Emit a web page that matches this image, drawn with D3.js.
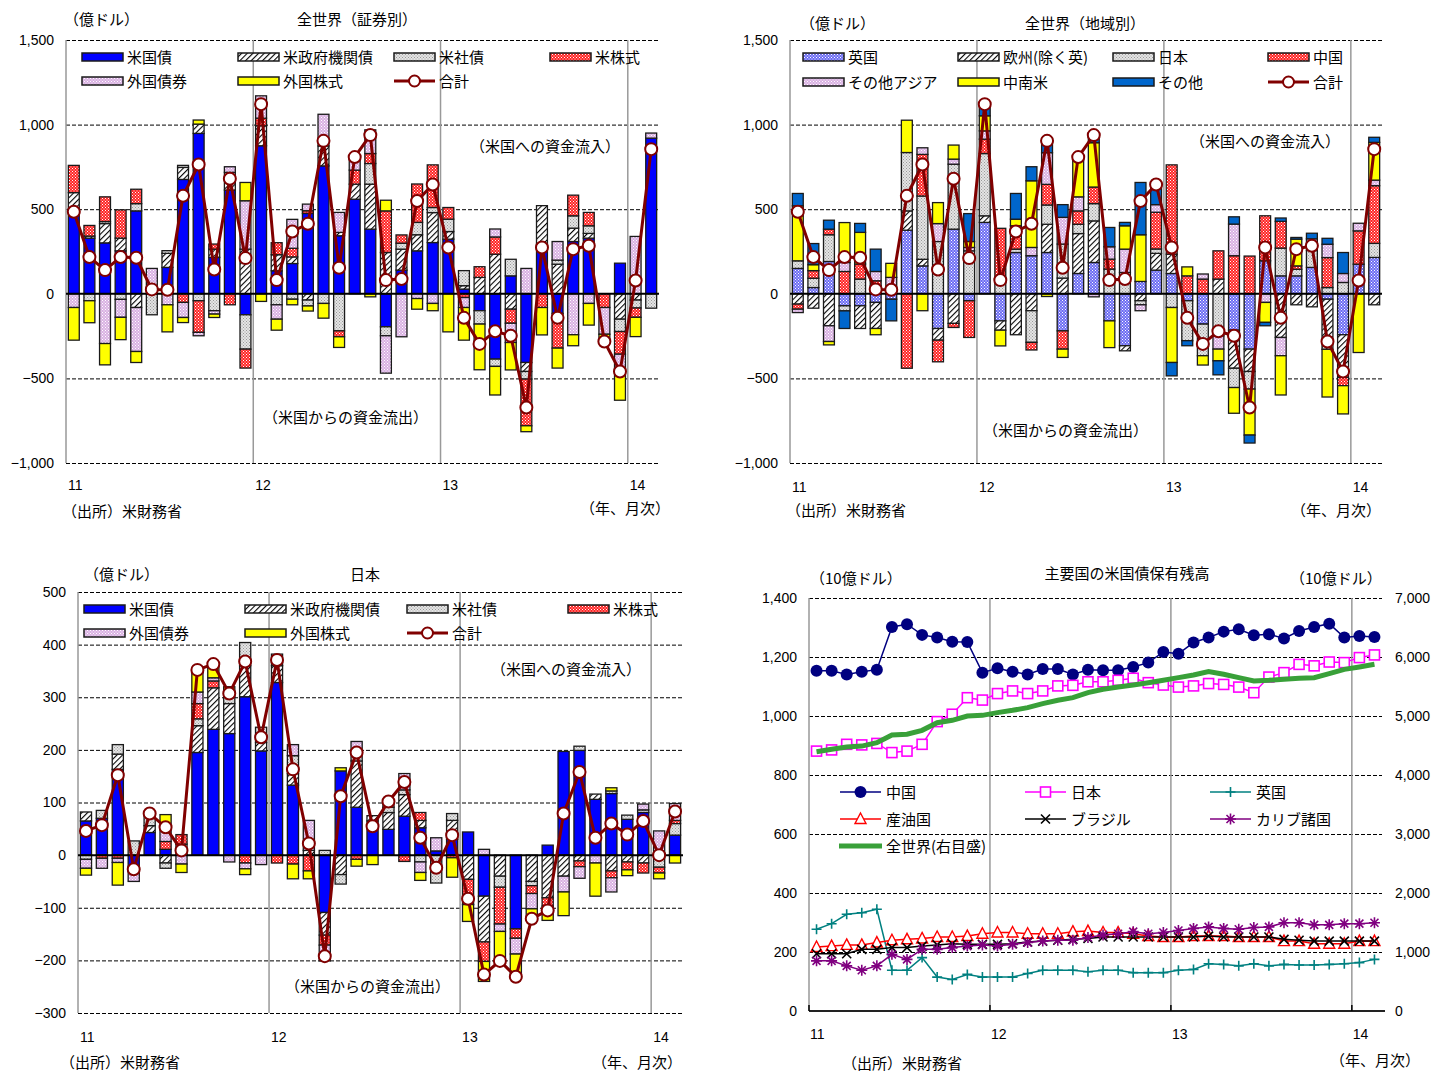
<!DOCTYPE html>
<html lang="ja">
<head>
<meta charset="UTF-8">
<title>対米証券投資と米国債保有残高</title>
<script src="https://d3js.org/d3.v7.min.js"></script>
<style>
  body { margin: 0; background: #fff; }
  svg text { font-family: "Noto Sans CJK JP", "Noto Sans", sans-serif; font-size: 15px; fill: #000; }
  .num text, text.num { font-family: "Liberation Sans", Arial, sans-serif; font-size: 14px; }
</style>
</head>
<body>
<svg id="chart" width="1447" height="1072"></svg>
<script>
// ---- categories ----
const months = [
  '2011-01','2011-02','2011-03','2011-04','2011-05','2011-06','2011-07','2011-08','2011-09','2011-10','2011-11','2011-12',
  '2012-01','2012-02','2012-03','2012-04','2012-05','2012-06','2012-07','2012-08','2012-09','2012-10','2012-11','2012-12',
  '2013-01','2013-02','2013-03','2013-04','2013-05','2013-06','2013-07','2013-08','2013-09','2013-10','2013-11','2013-12',
  '2014-01','2014-02'];
const yearStarts = ['2011-01','2012-01','2013-01','2014-01'];
const yearLabels = ['11','12','13','14'];

// ---- 全世界（証券別）, 億ドル ----
const worldUst     = [500,329,301,254,490,0,156,676,948,215,613,-124,875,136,179,475,756,343,559,382,-195,140,254,303,323,28,-100,-386,106,-406,294,-116,309,329,0,181,0,920];
const worldAgency  = [98,12,114,75,-81,0,83,71,55,49,75,264,118,95,39,-37,118,20,89,266,244,124,95,177,45,20,97,234,-91,-53,227,175,79,28,0,-150,-37,0];
const worldCorp    = [0,-41,12,-33,43,-124,16,12,-41,-100,30,-203,0,-65,-32,-35,-57,-219,0,122,-53,35,73,30,73,89,-79,-43,98,-45,0,24,73,45,0,-73,-47,-85];
const worldEquity  = [161,63,146,167,85,0,0,-51,-187,30,-65,-112,45,71,51,16,0,-35,83,59,246,49,227,252,69,-22,63,102,-83,-276,-81,-205,122,79,-81,-134,-55,0];
const worldFbond   = [-81,0,-294,-106,-260,150,-65,-89,-20,-20,33,286,132,-85,171,39,187,118,85,140,-221,-254,-28,-57,0,-59,0,47,-114,150,0,110,-242,-57,-158,-83,339,30];
const worldFequity = [-193,-130,-126,-132,-65,0,-160,-30,24,-20,0,108,-45,-65,-33,-30,-87,-63,0,-18,63,0,-63,-43,-225,-193,-270,-169,-162,-35,-162,-118,-65,-128,-43,-189,-114,0];
const worldTotal   = [485,217,140,217,213,26,24,579,764,144,680,211,1121,81,368,414,904,154,808,938,81,87,548,646,274,-142,-296,-221,-248,-672,274,-142,264,284,-282,-459,79,855];

// ---- 全世界（地域別）, 億ドル ----
const regUk     = [150,37,191,-71,-71,-51,-32,376,165,-205,382,-41,422,-160,244,225,244,-219,120,185,-160,-307,73,140,120,-41,-179,0,-215,-327,195,106,106,156,-32,-242,175,215];
const regEurope = [-61,-85,-189,0,-134,-154,0,114,39,-69,-175,0,39,-55,-242,-100,167,93,236,246,0,-30,-41,99,114,0,0,87,-225,-132,0,-258,-65,-77,-296,-252,0,-65];
const regJapan  = [45,55,158,-30,87,47,0,345,374,309,384,254,368,97,20,-187,114,201,55,102,146,126,-24,26,-81,-236,-187,-248,-114,-104,0,164,39,100,37,67,0,83];
const regChina  = [-30,45,33,132,89,30,0,-440,246,-128,-24,-217,85,290,138,-45,122,-108,79,98,59,0,0,217,528,106,87,167,225,223,266,158,20,0,177,-49,197,341];
const regAsia   = [-20,0,-93,53,0,55,97,0,39,106,30,20,49,0,0,49,187,158,83,-18,73,138,-35,45,0,0,30,-79,187,0,-51,-108,0,69,79,53,45,33];
const regLatam  = [325,35,-20,236,187,-37,83,191,-100,124,83,35,89,-93,39,394,-16,-49,232,262,-158,138,276,0,-325,53,-55,-69,-152,-272,-118,-232,158,0,-282,-167,-347,223];
const regOther  = [73,125,53,-104,53,132,-128,0,0,0,0,165,69,0,152,83,85,75,0,59,114,20,309,112,-79,-30,0,-83,43,-47,-20,20,10,33,35,124,0,30];

// ---- 日本（証券別）, 億ドル ----
const jpUst     = [65,70,163,-21,43,11,8,195,239,231,301,198,328,133,0,-109,160,91,65,49,74,52,8,30,44,-78,0,-140,0,19,197,199,106,117,68,81,0,38];
const jpAgency  = [17,0,29,0,13,-15,13,51,79,57,59,16,32,22,9,-43,-37,88,10,32,41,14,0,36,-46,-87,-40,0,-50,-81,-40,-11,10,-30,-13,-15,0,0];
const jpCorp    = [-8,15,18,27,22,-10,0,13,0,12,44,29,22,34,0,9,-18,15,0,10,9,-13,-53,13,0,0,-21,0,-8,0,0,8,0,5,8,5,-23,22];
const jpEquity  = [0,-6,-6,-10,0,15,18,29,13,0,-15,0,-15,-17,-30,-19,0,-8,0,0,-12,15,0,-5,-48,-37,-70,-18,-15,-16,0,-11,0,-13,-15,-19,-11,6];
const jpFbond   = [-17,-19,-8,-19,0,27,-17,22,6,-13,-11,-18,0,21,57,-30,0,22,0,12,31,-20,25,0,0,11,-14,-30,-29,0,-30,-22,-15,-27,0,11,46,32];
const jpFequity = [-13,0,-43,0,0,24,-16,43,25,20,-11,0,0,-28,-15,0,6,-13,-18,0,0,-15,0,-37,-32,-38,-56,-46,-22,-27,-45,0,-63,6,-11,0,-11,-15];
const jpTotal   = [46,57,152,-27,79,53,9,352,363,307,368,224,371,163,22,-192,112,195,55,102,139,33,-24,38,-83,-227,-201,-231,-121,-105,79,158,33,60,39,65,0,83];

// ---- 主要国の米国債保有残高, 10億ドル ----
const holdChina  = [1153,1153,1141,1150,1157,1302,1311,1275,1266,1252,1251,1147,1162,1150,1141,1159,1159,1141,1157,1155,1155,1166,1181,1217,1211,1249,1266,1286,1294,1274,1277,1263,1288,1302,1313,1266,1271,1268];
const holdJapan  = [881,885,904,902,907,876,881,904,981,1006,1062,1054,1076,1085,1076,1085,1102,1104,1116,1116,1121,1128,1113,1105,1098,1102,1110,1107,1098,1079,1132,1147,1175,1170,1183,1181,1198,1207];
const holdUk     = [277,296,328,333,345,138,138,181,115,107,124,115,115,115,127,138,138,138,133,138,138,130,130,130,138,141,160,158,153,160,153,158,156,156,158,160,164,175];
const holdOil    = [217,220,224,224,232,240,243,246,251,251,254,262,266,266,262,262,262,269,271,266,266,262,254,251,251,254,254,254,251,251,251,237,237,228,228,228,237,237];
const holdBrazil = [194,194,194,209,209,215,215,220,224,228,226,226,226,228,234,237,240,243,246,251,251,251,251,251,251,251,254,251,251,251,251,243,240,237,237,237,237,237];
const holdCarib  = [170,170,153,138,153,192,175,209,209,215,220,224,220,226,232,237,240,240,249,258,262,269,262,266,273,280,285,280,277,283,285,299,299,292,292,296,296,299];
const holdWorld  = [4395,4435,4475,4490,4548,4678,4690,4757,4887,4927,5000,5011,5057,5096,5141,5209,5266,5311,5396,5452,5492,5526,5565,5605,5650,5695,5752,5707,5650,5594,5605,5622,5639,5650,5718,5791,5831,5876];

// ---- setup ----
const svg = d3.select('#chart');
const defs = svg.append('defs');

function dotPattern(id, bg, dot) {
  const p = defs.append('pattern').attr('id', id)
    .attr('patternUnits', 'userSpaceOnUse').attr('width', 3).attr('height', 3);
  p.append('rect').attr('width', 3).attr('height', 3).attr('fill', bg);
  p.append('rect').attr('x', 0).attr('y', 0).attr('width', 1).attr('height', 1).attr('fill', dot);
  p.append('rect').attr('x', 1.5).attr('y', 1.5).attr('width', 1).attr('height', 1).attr('fill', dot);
}
dotPattern('grayDot', '#e4e4e4', '#9a9a9a');
dotPattern('redDot', '#ff2424', '#ffffff');
dotPattern('pinkDot', '#d9b0e2', '#ffffff');
dotPattern('ukDot', '#6c6cf4', '#ffffff');
const hatch = defs.append('pattern').attr('id', 'hatch')
  .attr('patternUnits', 'userSpaceOnUse').attr('width', 4).attr('height', 4)
  .attr('patternTransform', 'rotate(45)');
hatch.append('rect').attr('width', 4).attr('height', 4).attr('fill', '#fff');
hatch.append('line').attr('x1', 0).attr('y1', 0).attr('x2', 0).attr('y2', 4)
  .attr('stroke', '#000').attr('stroke-width', 2.2);

const secKeys = ['ust','agency','corp','equity','fbond','fequity'];
const secNames = ['米国債','米政府機関債','米社債','米株式','外国債券','外国株式'];
const secFills = ['#0000ff','url(#hatch)','url(#grayDot)','url(#redDot)','url(#pinkDot)','#ffff00'];
const regKeys = ['uk','europe','japan','china','asia','latam','other'];
const regNames = ['英国','欧州(除く英)','日本','中国','その他アジア','中南米','その他'];
const regFills = ['url(#ukDot)','url(#hatch)','url(#grayDot)','url(#redDot)','url(#pinkDot)','#ffff00','#0066cc'];

const TOTAL_COLOR = '#800000';
const WORLD_COLOR = '#39a039';

function txt(g, x, y, s, anchor) {
  return g.append('text').attr('x', x).attr('y', y).attr('text-anchor', anchor || 'start').text(s);
}

// stacked bar panel with total line
function drawBarPanel(c) {
  const g = svg.append('g');
  const x = d3.scaleBand().domain(months).range([c.x0, c.x1]).paddingInner(0.3).paddingOuter(0.15);
  const y = d3.scaleLinear().domain(c.yDomain).range([c.y1, c.y0]);
  const off = x.step() * x.paddingInner() / 2;
  const yearX = yearStarts.map(m => x(m) - off);

  const rows = months.map((m, i) => {
    const r = { month: m };
    c.keys.forEach((k, j) => r[k] = c.series[j][i]);
    return r;
  });
  const stacked = d3.stack().keys(c.keys).offset(d3.stackOffsetDiverging)(rows);

  // grid lines and y labels
  const yAx = g.append('g').attr('class', 'num').attr('transform', `translate(${c.x0},0)`)
    .call(d3.axisLeft(y).tickValues(c.yTicks).tickSize(-(c.x1 - c.x0)).tickPadding(12).tickFormat(d3.format(',')));
  yAx.select('.domain').remove();
  yAx.selectAll('.tick line').attr('stroke', '#000').attr('stroke-width', 1)
    .attr('stroke-dasharray', '4,2').attr('opacity', d => d === 0 ? 0 : 1);

  // year separators
  g.append('g').selectAll('line').data(yearX).join('line')
    .attr('x1', d => d).attr('x2', d => d).attr('y1', c.y0).attr('y2', c.y1)
    .attr('stroke', '#999').attr('stroke-width', 1.5);

  // bars
  g.append('g').selectAll('g').data(stacked).join('g')
    .attr('fill', (s, i) => c.fills[i])
    .selectAll('rect').data(s => s.filter(d => d[1] - d[0] !== 0)).join('rect')
    .attr('x', d => x(d.data.month)).attr('width', x.bandwidth())
    .attr('y', d => y(Math.max(d[0], d[1])))
    .attr('height', d => Math.abs(y(d[0]) - y(d[1])))
    .attr('stroke', '#1a1a1a').attr('stroke-width', 1.3);

  // zero line
  g.append('line').attr('x1', c.x0).attr('x2', c.x1).attr('y1', y(0)).attr('y2', y(0))
    .attr('stroke', '#000').attr('stroke-width', 2);

  // total line
  const cx = (d, i) => x(months[i]) + x.bandwidth() / 2;
  g.append('path').datum(c.total)
    .attr('d', d3.line().x(cx).y(d => y(d)))
    .attr('fill', 'none').attr('stroke', TOTAL_COLOR).attr('stroke-width', 3);
  g.append('g').selectAll('circle').data(c.total).join('circle')
    .attr('cx', cx).attr('cy', d => y(d)).attr('r', 6)
    .attr('fill', '#fff').attr('stroke', TOTAL_COLOR).attr('stroke-width', 2);

  // legend
  const lg = g.append('g');
  c.names.forEach((n, i) => {
    const col = i < 4 ? i : i - 4, row = i < 4 ? 0 : 1;
    const lx = c.legendX[col], ly = c.legendY[row];
    lg.append('rect').attr('x', lx).attr('y', ly - 4).attr('width', 41).attr('height', 8)
      .attr('fill', c.fills[i]).attr('stroke', '#1a1a1a').attr('stroke-width', 1.5);
    txt(lg, lx + 45, ly + 5.5, n);
  });
  {
    const col = c.names.length - 4, lx = c.legendX[col], ly = c.legendY[1];
    lg.append('line').attr('x1', lx).attr('x2', lx + 41).attr('y1', ly).attr('y2', ly)
      .attr('stroke', TOTAL_COLOR).attr('stroke-width', 3);
    lg.append('circle').attr('cx', lx + 20.5).attr('cy', ly).attr('r', 5.5)
      .attr('fill', '#fff').attr('stroke', TOTAL_COLOR).attr('stroke-width', 2);
    txt(lg, lx + 45, ly + 5.5, '合計');
  }

  // texts
  txt(g, c.unitX, c.titleY, '（億ドル）');
  txt(g, c.titleX, c.titleY, c.title, 'middle');
  txt(g, c.inflow[0], c.inflow[1], '（米国への資金流入）');
  txt(g, c.outflow[0], c.outflow[1], '（米国からの資金流出）');
  yearX.forEach((yx, i) => txt(g, yx + 2, c.yearY, yearLabels[i]).attr('class', 'num'));
  txt(g, c.src[0], c.src[1], '（出所）米財務省');
  txt(g, c.ym[0], c.ym[1], '（年、月次）', 'end');
}

drawBarPanel({
  x0: 66, x1: 659, y0: 40, y1: 463, yDomain: [-1000, 1500], yTicks: [-1000, -500, 0, 500, 1000, 1500],
  keys: secKeys, names: secNames, fills: secFills,
  series: [worldUst, worldAgency, worldCorp, worldEquity, worldFbond, worldFequity], total: worldTotal,
  title: '全世界（証券別）', titleX: 357, titleY: 25, unitX: 64,
  legendX: [82, 238, 394, 550], legendY: [57, 81],
  inflow: [470, 152], outflow: [263, 423], yearY: 490, src: [62, 517], ym: [670, 514]
});
drawBarPanel({
  x0: 790, x1: 1382, y0: 40, y1: 463, yDomain: [-1000, 1500], yTicks: [-1000, -500, 0, 500, 1000, 1500],
  keys: regKeys, names: regNames, fills: regFills,
  series: [regUk, regEurope, regJapan, regChina, regAsia, regLatam, regOther], total: worldTotal,
  title: '全世界（地域別）', titleX: 1085, titleY: 29, unitX: 800,
  legendX: [803, 958, 1113, 1268], legendY: [57, 82],
  inflow: [1190, 147], outflow: [983, 436], yearY: 492, src: [786, 516], ym: [1381, 516]
});
drawBarPanel({
  x0: 78, x1: 683, y0: 592, y1: 1013, yDomain: [-300, 500], yTicks: [-300, -200, -100, 0, 100, 200, 300, 400, 500],
  keys: secKeys, names: secNames, fills: secFills,
  series: [jpUst, jpAgency, jpCorp, jpEquity, jpFbond, jpFequity], total: jpTotal,
  title: '日本', titleX: 365, titleY: 580, unitX: 84,
  legendX: [84, 245, 407, 568], legendY: [609, 633],
  inflow: [491, 675], outflow: [285, 992], yearY: 1042, src: [60, 1068], ym: [682, 1068]
});

// ---- holdings line panel ----
(function () {
  const g = svg.append('g');
  const x0 = 809, x1 = 1382, y0 = 598, y1 = 1011;
  const x = d3.scaleBand().domain(months).range([x0, x1]);
  const yL = d3.scaleLinear().domain([0, 1400]).range([y1, y0]);
  const yR = d3.scaleLinear().domain([0, 7000]).range([y1, y0]);
  const yearX = yearStarts.map(m => x(m));
  const cx = (d, i) => x(months[i]) + x.bandwidth() / 2;

  const yAx = g.append('g').attr('class', 'num').attr('transform', `translate(${x0},0)`)
    .call(d3.axisLeft(yL).tickValues(d3.range(0, 1401, 200)).tickSize(-(x1 - x0)).tickPadding(12).tickFormat(d3.format(',')));
  yAx.select('.domain').remove();
  yAx.selectAll('.tick line').attr('stroke', '#000').attr('stroke-dasharray', '4,2').attr('opacity', d => d === 0 ? 0 : 1);
  const rAx = g.append('g').attr('class', 'num').attr('transform', `translate(${x1},0)`)
    .call(d3.axisRight(yR).tickValues(d3.range(0, 7001, 1000)).tickSize(0).tickPadding(13).tickFormat(d3.format(',')));
  rAx.select('.domain').remove();

  g.append('g').selectAll('line').data(yearX).join('line')
    .attr('x1', d => d).attr('x2', d => d).attr('y1', y0).attr('y2', y1)
    .attr('stroke', '#999').attr('stroke-width', 1.5);
  g.append('line').attr('x1', x0).attr('x2', x1 + 3).attr('y1', y1).attr('y2', y1)
    .attr('stroke', '#222').attr('stroke-width', 2);
  g.append('g').selectAll('line').data(yearX).join('line')
    .attr('x1', d => d).attr('x2', d => d).attr('y1', y1).attr('y2', y1 - 6)
    .attr('stroke', '#000').attr('stroke-width', 1.5);

  const mk = {
    circle: (s, col) => s.append('circle').attr('r', 6).attr('fill', col),
    square: (s, col) => s.append('rect').attr('x', -5).attr('y', -5).attr('width', 10).attr('height', 10)
      .attr('fill', '#fff').attr('stroke', col).attr('stroke-width', 1.6),
    triangle: (s, col) => s.append('path').attr('d', 'M0,-6L5.5,4.5L-5.5,4.5Z')
      .attr('fill', '#fff').attr('stroke', col).attr('stroke-width', 1.4),
    plus: (s, col) => s.append('path').attr('d', 'M-5,0H5M0,-5V5').attr('stroke', col).attr('stroke-width', 1.6),
    times: (s, col) => s.append('path').attr('d', 'M-4.5,-4.5L4.5,4.5M-4.5,4.5L4.5,-4.5').attr('stroke', col).attr('stroke-width', 1.6),
    star: (s, col) => s.append('path').attr('d', 'M-5.5,0H5.5M0,-5.5V5.5M-4,-4L4,4M-4,4L4,-4').attr('stroke', col).attr('stroke-width', 1.6)
  };
  const lines = [
    { name: '中国', vals: holdChina, color: '#000080', marker: 'circle' },
    { name: '日本', vals: holdJapan, color: '#ff00ff', marker: 'square' },
    { name: '英国', vals: holdUk, color: '#008080', marker: 'plus' },
    { name: '産油国', vals: holdOil, color: '#ff0000', marker: 'triangle' },
    { name: 'ブラジル', vals: holdBrazil, color: '#000000', marker: 'times' },
    { name: 'カリブ諸国', vals: holdCarib, color: '#800080', marker: 'star' }
  ];
  lines.forEach(s => {
    g.append('path').datum(s.vals)
      .attr('d', d3.line().x(cx).y(d => yL(d)))
      .attr('fill', 'none').attr('stroke', s.color).attr('stroke-width', 1.5);
    g.append('g').selectAll('g').data(s.vals).join('g')
      .attr('transform', (d, i) => `translate(${cx(d, i)},${yL(d)})`)
      .each(function () { mk[s.marker](d3.select(this), s.color); });
  });
  // secondary-axis series on top
  g.append('path').datum(holdWorld)
    .attr('d', d3.line().x(cx).y(d => yR(d)))
    .attr('fill', 'none').attr('stroke', WORLD_COLOR).attr('stroke-width', 5);

  // legend
  const legX = [840, 1025, 1210], legY = [792, 819];
  lines.forEach((s, i) => {
    const lx = legX[i % 3], ly = legY[Math.floor(i / 3)];
    g.append('line').attr('x1', lx).attr('x2', lx + 41).attr('y1', ly).attr('y2', ly)
      .attr('stroke', s.color).attr('stroke-width', 1.5);
    mk[s.marker](g.append('g').attr('transform', `translate(${lx + 20.5},${ly})`), s.color);
    txt(g, lx + 46, ly + 5.5, s.name);
  });
  g.append('line').attr('x1', 839).attr('x2', 882).attr('y1', 846).attr('y2', 846)
    .attr('stroke', WORLD_COLOR).attr('stroke-width', 5);
  txt(g, 886, 851.5, '全世界(右目盛)');

  txt(g, 810, 584, '（10億ドル）');
  txt(g, 1290, 584, '（10億ドル）');
  txt(g, 1127, 579, '主要国の米国債保有残高', 'middle');
  yearX.forEach((yx, i) => txt(g, yx + 1, 1039, yearLabels[i]).attr('class', 'num'));
  txt(g, 842, 1069, '（出所）米財務省');
  txt(g, 1420, 1066, '（年、月次）', 'end');
})();
</script>
</body>
</html>
